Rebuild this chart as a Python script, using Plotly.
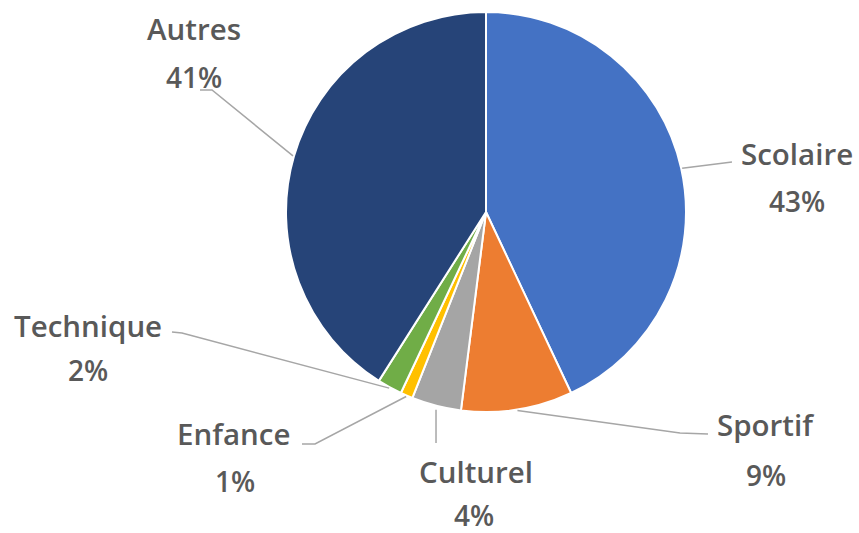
import math
import plotly.graph_objects as go

categories = ["Scolaire", "Sportif", "Culturel", "Enfance", "Technique", "Autres"]
values = [43, 9, 4, 1, 2, 41]
colors = ["#4472C4", "#ED7D31", "#A5A5A5", "#FFC000", "#70AD47", "#264478"]

W, H = 859, 533
OFF = 0  # body margin removed via post_script
# pie geometry in page pixels
CX, CY, R = 486, 212, 200

# label layout (page-pixel centres of name / percent) and leader elbows
label_pos = {
    "Scolaire": ((797, 153), (797, 201), [(732, 162)]),
    "Sportif": ((766, 424), (766, 475), [(680, 433), (708, 434)]),
    "Culturel": ((476, 471), (474, 515), None),
    "Enfance": ((233, 433), (235, 481), [(315, 444), (302, 444)]),
    "Technique": ((88, 325), (88, 370), [(182, 333), (172, 332)]),
    "Autres": ((194, 29), (194, 77), [(212, 90), (200, 90)]),
}


def px(x):
    return (x - OFF) / W


def py(y):
    return 1 - (y - OFF) / H


fig = go.Figure(
    go.Pie(
        labels=categories,
        values=values,
        marker=dict(colors=colors, line=dict(color="white", width=2)),
        sort=False,
        direction="clockwise",
        rotation=0,
        textinfo="none",
        hoverinfo="label+percent",
        domain=dict(x=[px(CX - R), px(CX + R)], y=[py(CY + R), py(CY - R)]),
        showlegend=False,
    )
)

total = sum(values)
annotations = []
shapes = []
cum = 0
for cat, v in zip(categories, values):
    mid = (cum + v / 2) / total
    cum += v
    th = 2 * math.pi * mid
    ex = CX + (R + 1) * math.sin(th)
    ey = CY - (R + 1) * math.cos(th)
    (lx, ly), (qx, qy), elbows = label_pos[cat]
    pct = f"{round(v / total * 100)}%"
    for (tx, ty), txt, fs in (((lx, ly), cat, 29.5), ((qx, qy), pct, 28)):
        annotations.append(
            dict(
                x=px(tx), y=py(ty), xref="paper", yref="paper",
                text=txt, showarrow=False, xanchor="center", yanchor="middle",
                font=dict(family="Open Sans", size=fs, color="#595959", weight=600),
            )
        )
    if elbows is None:
        pts = [(ex, ey + 3), (ex, 443)]
    else:
        pts = [(ex, ey)] + elbows
    path = "M " + " L ".join(f"{px(a):.5f},{py(b):.5f}" for a, b in pts)
    shapes.append(
        dict(type="path", path=path, xref="paper", yref="paper",
             line=dict(color="#A6A6A6", width=1.5))
    )

fig.update_layout(
    width=W, height=H,
    margin=dict(l=0, r=0, t=0, b=0),
    paper_bgcolor="white", plot_bgcolor="white",
    annotations=annotations, shapes=shapes,
)

fig.write_html(
    "out.html",
    config={"displayModeBar": False},
    post_script="document.body.style.margin='0';document.body.style.overflow='hidden';",
)
